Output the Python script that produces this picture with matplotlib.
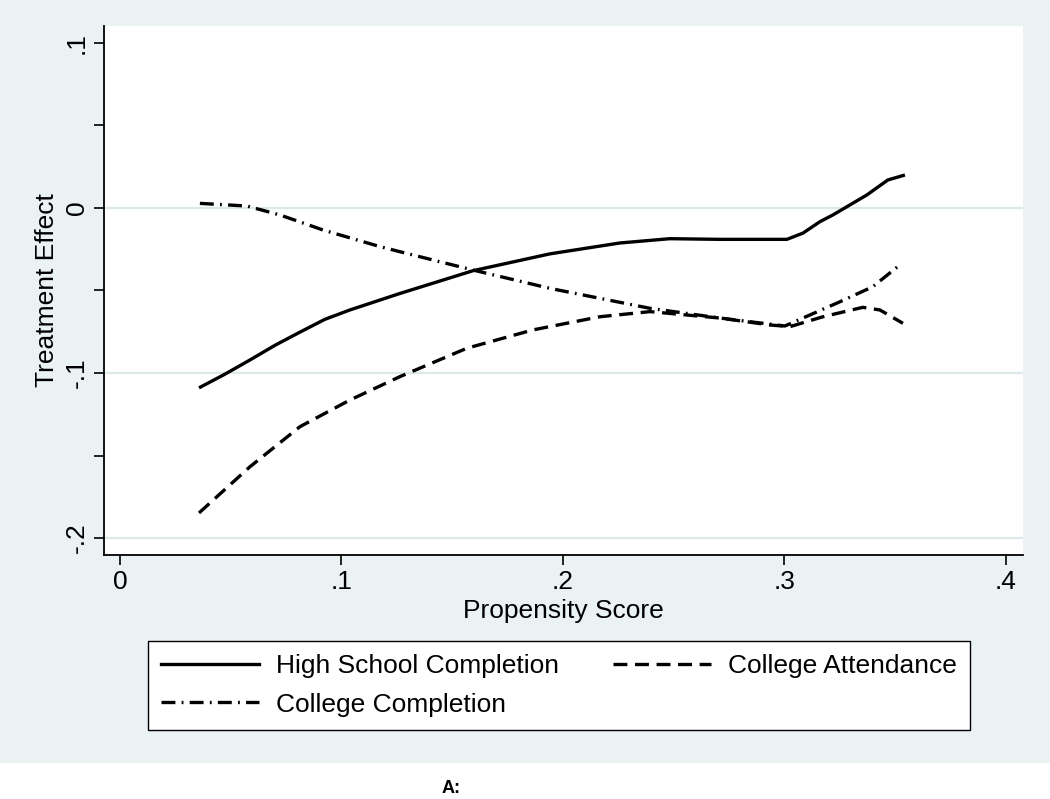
import matplotlib
matplotlib.use("Agg")
import matplotlib.pyplot as plt
from matplotlib.lines import Line2D
from matplotlib.patches import Rectangle

# ---- data ----
hs_x = [0.0357, 0.0470, 0.0587, 0.0700, 0.0813, 0.0925, 0.1038, 0.1264, 0.1594, 0.1941,
        0.2257, 0.2483, 0.2709, 0.3011, 0.3084, 0.3160, 0.3219, 0.3372, 0.3467, 0.3544]
hs_y = [-0.109, -0.1010, -0.0921, -0.0832, -0.0752, -0.0675, -0.0618, -0.0518, -0.0380,
        -0.0278, -0.0212, -0.0186, -0.0190, -0.0190, -0.0152, -0.0083, -0.0042, 0.0079,
        0.0170, 0.0200]

ca_x = [0.0357, 0.0587, 0.0813, 0.1038, 0.1264, 0.1566, 0.1864, 0.2167, 0.2393,
        0.2709, 0.2935, 0.3025, 0.3174, 0.3354, 0.3431, 0.3535]
ca_y = [-0.1848, -0.1568, -0.1325, -0.1164, -0.1022, -0.0850, -0.0739, -0.0659, -0.0628,
        -0.0667, -0.0709, -0.0719, -0.0659, -0.0602, -0.0618, -0.0699]

cc_x = [0.0361, 0.0573, 0.0722, 0.0916, 0.1174, 0.1264, 0.1594, 0.1941, 0.2393,
        0.2709, 0.3002, 0.3251, 0.3399, 0.3521]
cc_y = [0.0028, 0.0012, -0.0042, -0.0133, -0.0234, -0.0265, -0.0376, -0.0487, -0.0608,
        -0.0667, -0.0715, -0.0568, -0.0477, -0.0345]

series_names = ["High School Completion", "College Attendance", "College Completion"]
x_ticks = [0, 0.1, 0.2, 0.3, 0.4]
x_tick_labels = ["0", ".1", ".2", ".3", ".4"]
y_ticks = [-0.2, -0.1, 0, 0.1]
y_tick_labels = ["-.2", "-.1", "0", ".1"]
y_minor_ticks = [-0.15, -0.05, 0.05]
grid_values = [-0.2, -0.1, 0]

# ---- style ----
plt.rcParams['font.family'] = ['Liberation Sans', 'DejaVu Sans']
plt.rcParams['lines.scale_dashes'] = False
FS = 19
BG = "#EAF2F3"
GRID = "#DCE8EA"
LW = 2.4
styles = [
    dict(linestyle="-"),
    dict(linestyle=(0, (10, 5.5))),
    dict(linestyle=(0, (10, 4.5, 1.3, 4.5))),
]

W, H = 1050, 799
fig = plt.figure(figsize=(W / 100, H / 100), dpi=100)
fig.patch.set_facecolor("white")
fig.patches.append(Rectangle((0, (H - 763) / H), 1, 763 / H, transform=fig.transFigure,
                             facecolor=BG, edgecolor="none", zorder=-10))

ax = fig.add_axes([104 / W, (H - 555) / H, (1023 - 104) / W, (555 - 26) / H])
ax.set_facecolor("white")
ax.set_xlim(-0.0072, 0.4077)
ax.set_ylim(-0.2103, 0.1103)

for g in grid_values:
    ax.axhline(g, color=GRID, lw=1.6, zorder=0)

data = [(hs_x, hs_y), (ca_x, ca_y), (cc_x, cc_y)]
handles = []
for (xs, ys), name, st in zip(data, series_names, styles):
    ax.plot(xs, ys, color="black", lw=LW, dash_capstyle="butt", solid_capstyle="butt", **st)
    handles.append(Line2D([], [], color="black", lw=LW, dash_capstyle="butt", label=name, **st))

for s in ["top", "right"]:
    ax.spines[s].set_visible(False)
for s in ["left", "bottom"]:
    ax.spines[s].set_linewidth(1.3)
    ax.spines[s].set_color("black")

ax.set_xticks(x_ticks)
ax.set_xticklabels(x_tick_labels)
ax.set_yticks(y_ticks)
ax.set_yticklabels(y_tick_labels)
ax.set_yticks(y_minor_ticks, minor=True)
ax.tick_params(axis="both", which="both", length=7.5, width=1.2, color="black",
               labelsize=FS, pad=3.6, direction="out")
ax.tick_params(axis="y", labelrotation=90)
for t in ax.get_yticklabels():
    t.set_va("center")

ax.set_xlabel("Propensity Score", fontsize=FS)
ax.set_ylabel("Treatment Effect", fontsize=FS)
ax.xaxis.set_label_coords(0.5, -0.084)
ax.yaxis.set_label_coords(-0.0495, 0.5)

# legend filled column-wise: col1 = HS, CC ; col2 = CA
order = [0, 2, 1]
leg = fig.legend(handles=[handles[i] for i in order],
                 labels=[series_names[i] for i in order],
                 ncol=2, loc="upper left",
                 bbox_to_anchor=(148 / W, (H - 641) / H),
                 fontsize=FS, frameon=True, fancybox=False,
                 handlelength=3.7, handletextpad=0.65, columnspacing=2.05,
                 borderpad=0.5, labelspacing=0.55, borderaxespad=0)
leg.get_frame().set_edgecolor("black")
leg.get_frame().set_linewidth(1.0)
leg.get_frame().set_facecolor("white")
leg.get_frame().set_alpha(1)

fig.text(442 / W, (H - 797) / H, "A:", fontsize=13, fontweight="bold",
         ha="left", va="bottom")

fig.savefig("out.png", dpi=100, facecolor=fig.get_facecolor())
